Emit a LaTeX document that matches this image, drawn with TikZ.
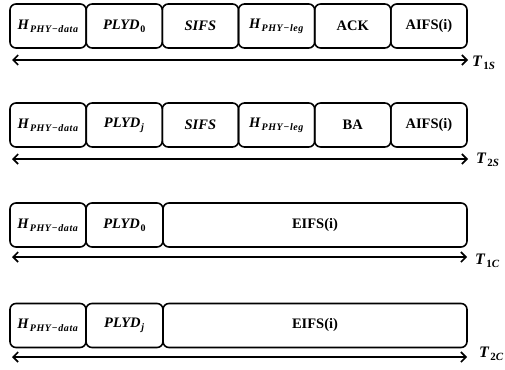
\documentclass[tikz,border=0pt]{standalone}
\usepackage{fontspec}
\setmainfont{Liberation Serif}
\usetikzlibrary{arrows.meta}
\newcommand\mysub[3]{\textit{#1}\kern0.8pt\raisebox{-0.4ex}{\fontsize{#3}{#3}\selectfont\addfontfeatures{LetterSpace=6}#2}}
\begin{document}
\begin{tikzpicture}[x=1pt,y=-1pt,
  cell/.style={draw, line width=1.6pt, rounded corners=6pt, minimum height=44pt, inner sep=0pt, font=\fontsize{14.5}{16}\selectfont\bfseries},
  span/.style={line width=1.8pt, {Straight Barb[length=5pt,width=10pt,line width=1.6pt]}-{Straight Barb[length=5pt,width=10pt,line width=1.6pt]}},
  tlab/.style={anchor=west, inner sep=0pt, font=\fontsize{16}{18}\selectfont\bfseries}]
\useasboundingbox (0,0) rectangle (505,369);
% Row 1
\node[cell, minimum width=76.2pt] (a1) at (48.1,26) {\mysub{H}{\textit{PHY−data}}{10}};
\node[cell, minimum width=76.2pt] (a2) at (124.25,26) {\mysub{PLYD}{0}{10}};
\node[cell, minimum width=76.2pt] (a3) at (200.4,26) {\textit{SIFS}};
\node[cell, minimum width=76.2pt] (a4) at (276.6,26) {\mysub{H}{\textit{PHY−leg}}{10}};
\node[cell, minimum width=76.2pt] (a5) at (352.75,26) {ACK};
\node[cell, minimum width=76.2pt] (a6) at (428.9,26) {AIFS(i)};
\coordinate (l1) at (12,60); \coordinate (r1) at (468,60);
\draw[span] (l1) -- (r1);
\node[tlab] (t1) at (472,63) {\mysub{T}{1\textit{S}}{11}};
% Row 2
\node[cell, minimum width=76.2pt] (b1) at (48.1,125) {\mysub{H}{\textit{PHY−data}}{10}};
\node[cell, minimum width=76.2pt] (b2) at (124.25,125) {\mysub{PLYD}{\textit{j}}{10}};
\node[cell, minimum width=76.2pt] (b3) at (200.4,125) {\textit{SIFS}};
\node[cell, minimum width=76.2pt] (b4) at (276.6,125) {\mysub{H}{\textit{PHY−leg}}{10}};
\node[cell, minimum width=76.2pt] (b5) at (352.75,125) {BA};
\node[cell, minimum width=76.2pt] (b6) at (428.9,125) {AIFS(i)};
\coordinate (l2) at (12,159); \coordinate (r2) at (468,159);
\draw[span] (l2) -- (r2);
\node[tlab] (t2) at (476,160) {\mysub{T}{2\textit{S}}{11}};
% Row 3
\node[cell, minimum width=76pt] (c1) at (48,225) {\mysub{H}{\textit{PHY−data}}{10}};
\node[cell, minimum width=77pt] (c2) at (124.5,225) {\mysub{PLYD}{0}{10}};
\node[cell, minimum width=304pt] (c3) at (315,225) {EIFS(i)};
\coordinate (l3) at (12,257); \coordinate (r3) at (467,257);
\draw[span] (l3) -- (r3);
\node[tlab] (t3) at (475,261) {\mysub{T}{1\textit{C}}{11}};
% Row 4
\node[cell, minimum width=76pt] (d1) at (48,325.5) {\mysub{H}{\textit{PHY−data}}{10}};
\node[cell, minimum width=77pt] (d2) at (124.5,325.5) {\mysub{PLYD}{\textit{j}}{10}};
\node[cell, minimum width=304pt] (d3) at (315,325.5) {EIFS(i)};
\coordinate (l4) at (12,357); \coordinate (r4) at (467,357);
\draw[span] (l4) -- (r4);
\node[tlab] (t4) at (479,354) {\mysub{T}{2\textit{C}}{11}};
\end{tikzpicture}
\end{document}
